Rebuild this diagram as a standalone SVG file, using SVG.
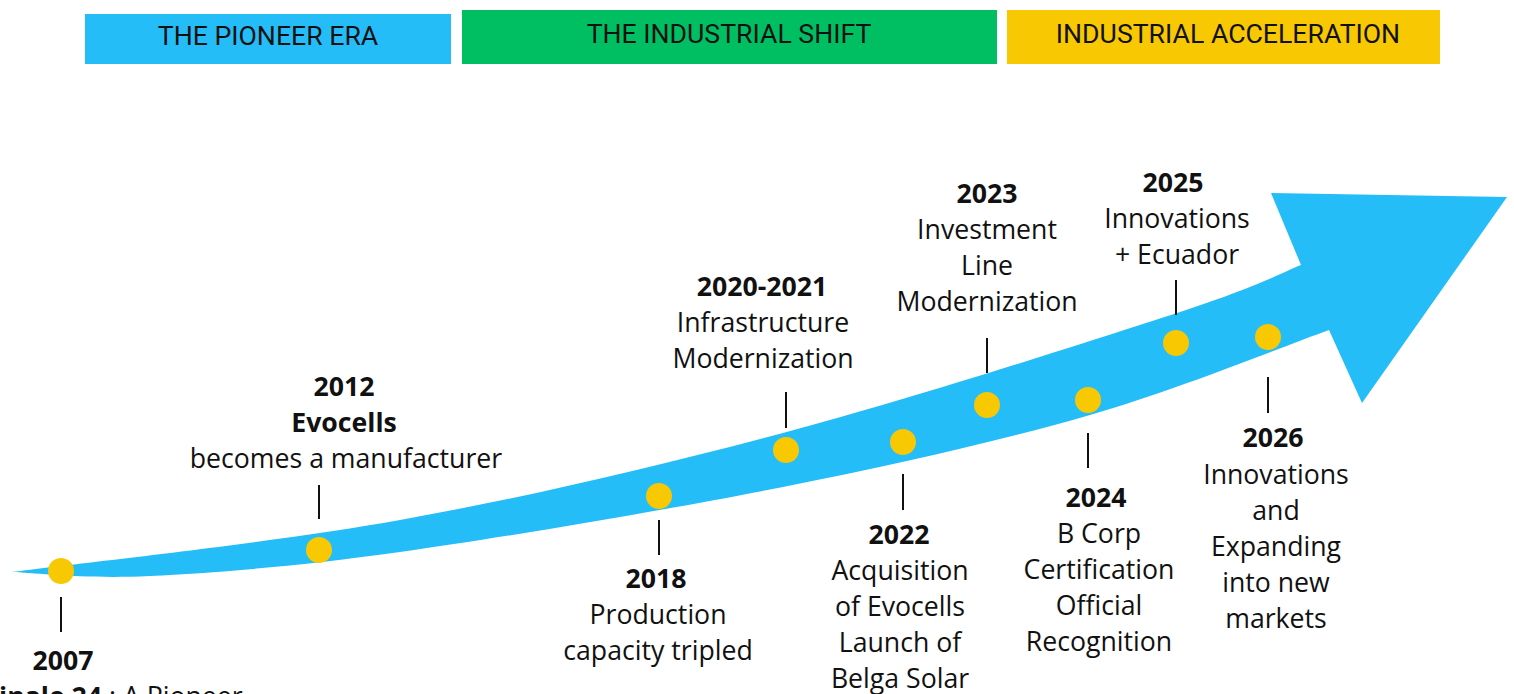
<svg xmlns="http://www.w3.org/2000/svg" width="1514" height="694" viewBox="0 0 1514 694">
  <style>
    .band { font-family: Roboto, "Liberation Sans", sans-serif; font-size: 26.67px; fill: #111; text-anchor: middle; }
    .lbl { font-family: "Open Sans", "Liberation Sans", sans-serif; font-size: 26.67px; fill: #111; text-anchor: middle; }
    .yr { font-weight: bold; }
    .tick { stroke: #111; stroke-width: 2; }
    .dot { fill: #F8C802; }
  </style>

  <!-- Era bands -->
  <g id="era-pioneer">
    <rect x="85" y="14" width="366" height="50" fill="#25BDF8"/>
    <text class="band" x="268" y="45">THE PIONEER ERA</text>
  </g>
  <g id="era-shift">
    <rect x="462" y="10" width="535" height="54" fill="#00BF63"/>
    <text class="band" x="729" y="43">THE INDUSTRIAL SHIFT</text>
  </g>
  <g id="era-acceleration">
    <rect x="1007" y="10" width="433" height="54" fill="#F8C802"/>
    <text class="band" x="1228" y="43">INDUSTRIAL ACCELERATION</text>
  </g>

  <!-- Growth arrow -->
  <g id="arrow">
    <path fill="#25BDF8" d="M12,572
      C76.7,563.3 271.5,543.2 400,520
      C528.5,496.8 653.5,467.5 783,433
      C912.5,398.5 1090.7,341 1177,313
      C1263.3,285 1280.3,273 1301,265
      L1271,193 L1507,197 L1362,403 L1329,330
      C1289.2,344.2 1181,388.8 1090,415
      C999,441.2 898,464.2 783,487
      C668,509.8 505.5,537.2 400,552
      C294.5,566.8 214.7,572.7 150,576
      C85.3,579.3 35,572.7 12,572 Z"/>
  </g>

  <!-- Leader ticks -->
  <g id="connectors">
    <line class="tick" x1="61" y1="597" x2="61" y2="632"/>
    <line class="tick" x1="319" y1="485" x2="319" y2="519"/>
    <line class="tick" x1="659" y1="520" x2="659" y2="555"/>
    <line class="tick" x1="786" y1="392" x2="786" y2="428"/>
    <line class="tick" x1="903" y1="474" x2="903" y2="510"/>
    <line class="tick" x1="987" y1="338" x2="987" y2="373"/>
    <line class="tick" x1="1088" y1="433" x2="1088" y2="468"/>
    <line class="tick" x1="1176" y1="280" x2="1176" y2="315"/>
    <line class="tick" x1="1268" y1="377" x2="1268" y2="413"/>
  </g>

  <!-- Milestones -->
  <g id="m2007">
    <circle class="dot" cx="61" cy="571" r="13"/>
    <text class="lbl yr" x="63" y="670">2007</text>
    <text class="lbl" x="-1" y="706" style="text-anchor:start"><tspan class="yr">inale 24</tspan> : A Pioneer</text>
  </g>
  <g id="m2012">
    <circle class="dot" cx="319" cy="550" r="13"/>
    <text class="lbl yr" x="344" y="396">2012</text>
    <text class="lbl yr" x="344" y="432">Evocells</text>
    <text class="lbl" x="346" y="468">becomes a manufacturer</text>
  </g>
  <g id="m2018">
    <circle class="dot" cx="659" cy="496" r="13"/>
    <text class="lbl yr" x="656" y="588">2018</text>
    <text class="lbl" x="658" y="624">Production</text>
    <text class="lbl" x="658" y="660">capacity tripled</text>
  </g>
  <g id="m2020">
    <circle class="dot" cx="786" cy="450" r="13"/>
    <text class="lbl yr" x="762" y="296">2020-2021</text>
    <text class="lbl" x="763" y="332">Infrastructure</text>
    <text class="lbl" x="763" y="368">Modernization</text>
  </g>
  <g id="m2022">
    <circle class="dot" cx="903" cy="442" r="13"/>
    <text class="lbl yr" x="899" y="544">2022</text>
    <text class="lbl" x="900" y="580">Acquisition</text>
    <text class="lbl" x="900" y="616">of Evocells</text>
    <text class="lbl" x="900" y="652">Launch of</text>
    <text class="lbl" x="900" y="688">Belga Solar</text>
  </g>
  <g id="m2023">
    <circle class="dot" cx="987" cy="405" r="13"/>
    <text class="lbl yr" x="987" y="203">2023</text>
    <text class="lbl" x="987" y="239">Investment</text>
    <text class="lbl" x="987" y="275">Line</text>
    <text class="lbl" x="987" y="311">Modernization</text>
  </g>
  <g id="m2024">
    <circle class="dot" cx="1088" cy="400" r="13"/>
    <text class="lbl yr" x="1096" y="507">2024</text>
    <text class="lbl" x="1099" y="543">B Corp</text>
    <text class="lbl" x="1099" y="579">Certification</text>
    <text class="lbl" x="1099" y="615">Official</text>
    <text class="lbl" x="1099" y="651">Recognition</text>
  </g>
  <g id="m2025">
    <circle class="dot" cx="1176" cy="343" r="13"/>
    <text class="lbl yr" x="1173" y="192">2025</text>
    <text class="lbl" x="1177" y="228">Innovations</text>
    <text class="lbl" x="1177" y="264">+ Ecuador</text>
  </g>
  <g id="m2026">
    <circle class="dot" cx="1268" cy="337" r="13"/>
    <text class="lbl yr" x="1273" y="447">2026</text>
    <text class="lbl" x="1276" y="484">Innovations</text>
    <text class="lbl" x="1276" y="520">and</text>
    <text class="lbl" x="1276" y="556">Expanding</text>
    <text class="lbl" x="1276" y="592">into new</text>
    <text class="lbl" x="1276" y="628">markets</text>
  </g>
</svg>
